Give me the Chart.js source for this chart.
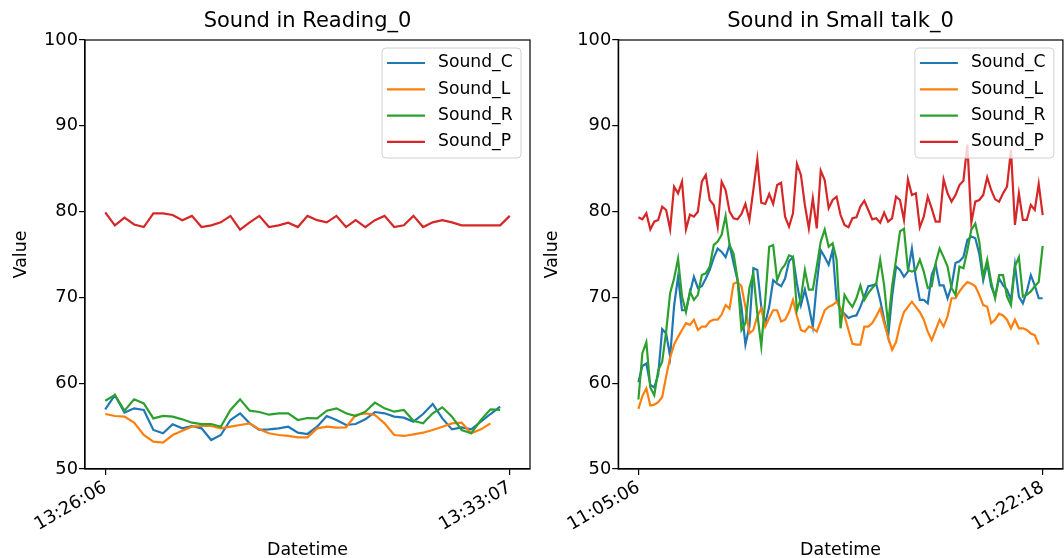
<!DOCTYPE html>
<html>
<head>
<meta charset="utf-8">
<script src="https://cdn.jsdelivr.net/npm/chart.js@4.4.0/dist/chart.umd.min.js"></script>
<style>
body{margin:0;background:#fff;}
#wrap{position:relative;width:1064px;height:558px;}
.caja{position:absolute;top:0;height:558px;}
</style>
</head>
<body>
<div id="wrap">
  <div class="caja" style="left:0;width:540px"><canvas id="reading"></canvas></div>
  <div class="caja" style="left:540px;width:524px"><canvas id="talk"></canvas></div>
</div>
<script>
// datos
const seriesNames = ["Sound_C", "Sound_L", "Sound_R", "Sound_P"];
const seriesColors = ["#1f77b4", "#ff7f0e", "#2ca02c", "#d62728"];
const yTicks = [50, 60, 70, 80, 90, 100];

const readingTicks = ["13:26:06", "13:33:07"];
const readingCount = 43;
const readingC = [56.95,58.62,56.57,57.07,56.88,54.55,54.16,55.21,54.74,55.01,54.74,53.38,53.96,55.71,56.49,55.32,54.55,54.62,54.74,54.93,54.23,54.08,54.93,56.18,55.71,55.13,55.24,55.79,56.64,56.49,56.1,55.98,55.52,56.41,57.58,55.9,54.62,54.86,54.62,55.52,56.41,57.26];
const readingL = [56.41,56.18,56.1,55.4,53.96,53.19,53.07,53.96,54.47,54.93,55.01,55.01,54.74,54.93,55.13,55.32,54.62,54.16,53.96,53.85,53.69,53.69,54.74,54.93,54.82,54.86,56.29,56.49,56.29,55.32,53.96,53.85,54.04,54.23,54.55,54.93,55.32,55.4,54.16,54.62,55.32];
const readingR = [57.96,58.62,56.8,58.12,57.65,55.9,56.18,56.1,55.79,55.4,55.24,55.24,54.93,56.88,58.12,56.8,56.64,56.33,56.49,56.49,55.71,55.94,55.9,56.8,57.07,56.49,56.18,56.68,57.73,57.07,56.68,56.88,55.63,55.32,56.49,57.19,56.1,54.55,54.16,55.71,56.95,56.88];
const readingP = [79.9,78.4,79.3,78.5,78.2,79.8,79.8,79.6,79.0,79.5,78.2,78.4,78.75,79.5,77.9,78.75,79.5,78.2,78.4,78.7,78.2,79.5,79.0,78.75,79.5,78.2,79.0,78.2,79.0,79.5,78.2,78.4,79.5,78.2,78.75,79.0,78.75,78.4,78.4,78.4,78.4,78.4,79.5];

const talkTicks = ["11:05:06", "11:22:18"];
const talkCount = 103;
const talkC = [60.1,62.0,62.3,59.8,59.5,61.0,66.3,65.8,63.1,69.0,72.4,
  68.5,68.5,70.5,72.4,71.1,71.3,72.2,73.2,74.6,75.7,75.3,74.7,76.1,74.0,72.0,68.9,64.5,66.6,73.4,73.2,
  68.9,67.0,68.9,72.0,71.6,71.3,72.2,74.2,74.7,71.6,69.1,70.9,68.9,66.6,71.6,75.5,74.7,73.8,75.5,69.7,
  68.5,68.1,67.6,67.8,67.9,68.9,70.1,71.3,71.4,71.6,69.7,67.4,65.4,70.1,73.6,73.2,72.4,73.0,75.7,72.2,
  69.7,69.7,69.3,72.6,73.8,71.4,71.4,69.9,71.3,74.0,74.2,74.7,76.7,77.1,76.9,75.1,72.0,74.0,71.3,70.1,
  72.2,71.4,70.9,69.7,73.8,70.1,69.3,70.7,72.6,71.4,69.9,69.9];
const talkL = [57.0,58.5,59.4,57.4,57.5,57.8,58.4,60.8,63.0,64.5,65.4,
  66.2,67.0,66.8,67.4,66.2,66.6,66.6,67.2,67.4,67.4,68.0,69.1,68.7,71.6,71.8,71.3,68.9,65.8,66.2,67.8,
  68.7,66.6,67.6,68.5,68.5,67.2,67.4,68.3,69.7,67.8,66.2,66.0,66.6,66.4,66.0,67.2,68.5,68.9,69.1,69.5,
  68.7,67.8,66.2,64.6,64.5,64.5,66.6,66.6,67.0,67.8,68.7,67.0,65.4,63.9,64.8,66.8,68.3,68.9,69.5,68.9,
  68.3,67.4,66.0,65.0,66.2,67.4,66.6,67.8,69.9,69.9,70.7,71.3,71.8,71.6,71.3,70.3,69.1,68.9,67.0,67.4,
  68.1,67.9,67.4,66.4,67.4,66.4,66.4,66.2,65.8,65.6,64.5];
const talkR = [58.1,63.5,64.8,59.5,58.6,61.5,62.5,66.0,70.5,72.2,74.5,70.1,
  68.3,70.7,69.7,70.3,72.6,72.8,73.6,76.1,76.5,77.3,79.5,76.1,75.1,72.2,66.2,67.0,71.1,72.8,68.1,64.3,
  69.7,75.9,76.1,72.0,73.2,73.8,74.9,74.7,68.5,69.9,73.2,70.9,70.9,73.6,76.5,77.9,75.9,76.3,74.4,66.4,
  70.3,69.5,68.9,69.9,71.4,69.7,70.5,71.1,71.6,74.4,71.4,66.8,71.3,74.4,77.7,78.0,73.2,73.0,73.2,74.4,
  73.0,71.1,71.3,74.0,75.7,74.7,73.6,71.1,70.3,73.6,73.4,75.5,77.9,78.6,76.5,72.4,74.4,71.8,69.9,72.6,
  72.6,70.1,69.1,73.6,74.7,70.1,70.3,70.7,71.3,71.8,76.0];
const talkP = [79.33,79.1,79.8,77.93,78.83,79.03,80.58,80.19,77.93,82.9,82.13,83.49,77.93,79.65,79.41,79.99,83.49,84.27,81.35,80.77,
  78.24,83.49,82.52,79.99,79.22,79.1,79.72,80.89,79.03,82.52,86.09,81.04,80.89,82.05,80.89,83.1,83.37,79.41,78.24,79.8,
  85.55,84.27,80.77,78.05,81.55,78.05,84.77,83.68,80.38,81.35,81.74,79.6,
  78.44,78.17,79.22,79.33,80.58,81.27,80.19,79.1,79.22,78.71,79.88,78.83,79.22,81.74,81.35,79.03,83.76,81.93,82.13,78.17,
  79.41,81.74,80.38,78.83,78.83,83.76,82.13,81.16,81.93,83.1,83.6,87.8,78.71,81.16,81.35,81.93,84.0,82.52,81.43,81.16,
  82.13,82.9,87.2,78.44,82.13,79.03,79.03,80.77,80.19,83.22,79.6];

const fuente = '"DejaVu Sans", sans-serif';

// marco completo alrededor del area
const marco = {
  id: "marco",
  afterDatasetsDraw(chart) {
    const a = chart.chartArea, ctx = chart.ctx;
    ctx.save();
    ctx.strokeStyle = "#000";
    ctx.lineWidth = 1.2;
    ctx.strokeRect(a.left, a.top, a.right - a.left, a.bottom - a.top);
    ctx.restore();
  }
};

// leyenda estilo matplotlib, encima de las lineas
const leyenda = {
  id: "leyenda",
  afterDatasetsDraw(chart) {
    const a = chart.chartArea, ctx = chart.ctx;
    const w = 139, h = 110;
    const x0 = a.right - 9 - w, y0 = a.top + 8;
    ctx.save();
    ctx.beginPath();
    ctx.roundRect(x0, y0, w, h, 4);
    ctx.fillStyle = "rgba(255,255,255,0.8)";
    ctx.fill();
    ctx.strokeStyle = "#d0d0d0";
    ctx.lineWidth = 1;
    ctx.stroke();
    ctx.font = "17.2px " + fuente;
    ctx.textBaseline = "middle";
    seriesNames.forEach((name, i) => {
      const y = y0 + 15 + i * 26.3;
      ctx.strokeStyle = seriesColors[i];
      ctx.lineWidth = 2.2;
      ctx.beginPath();
      ctx.moveTo(x0 + 5, y);
      ctx.lineTo(x0 + 43, y);
      ctx.stroke();
      ctx.fillStyle = "#000";
      ctx.fillText(name, x0 + 56, y);
    });
    ctx.restore();
  }
};

function crearGrafico(id, titulo, ticksX, n, datos, yWidth, padRight, yTitlePad) {
  const ctx = document.getElementById(id).getContext("2d");
  return new Chart(ctx, {
    type: "line",
    data: {
      datasets: datos.map((serie, i) => ({
        label: seriesNames[i],
        data: serie.map((v, k) => ({ x: k, y: v })),
        borderColor: seriesColors[i],
        backgroundColor: seriesColors[i],
        borderWidth: 2.2,
        pointRadius: 0,
        tension: 0,
        fill: false,
        order: 4 - i
      }))
    },
    options: {
      responsive: true,
      maintainAspectRatio: false,
      animation: false,
      layout: { padding: { left: 0, right: padRight, top: 0, bottom: 0 } },
      plugins: {
        legend: { display: false },
        tooltip: { enabled: false },
        title: {
          display: true,
          fullSize: false,
          text: titulo,
          color: "#000",
          font: { family: fuente, size: 21, weight: "normal" },
          padding: { top: 9, bottom: 5.8 }
        }
      },
      scales: {
        x: {
          type: "linear",
          min: -0.05 * (n - 1),
          max: 1.05 * (n - 1),
          afterBuildTicks: s => { s.ticks = [{ value: 0 }, { value: n - 1 }]; },
          afterFit: s => { s.height = 89; },
          grid: { display: true, drawOnChartArea: false, drawTicks: true, tickLength: 6, color: "#000", lineWidth: 1.2 },
          border: { display: true, color: "#000", width: 1.2 },
          ticks: {
            autoSkip: false,
            maxRotation: 30,
            minRotation: 30,
            padding: 2,
            color: "#000",
            font: { family: fuente, size: 17.8 },
            callback: v => (v === 0 ? ticksX[0] : ticksX[1])
          },
          title: { display: true, text: "Datetime", color: "#000", font: { family: fuente, size: 17.4 }, padding: { top: 0, bottom: -3 } }
        },
        y: {
          min: 50,
          max: 100,
          afterBuildTicks: s => { s.ticks = yTicks.map(v => ({ value: v })); },
          afterFit: s => { s.width = yWidth; },
          grid: { display: true, drawOnChartArea: false, drawTicks: true, tickLength: 6, color: "#000", lineWidth: 1.2 },
          border: { display: true, color: "#000", width: 1.2 },
          ticks: { color: "#000", padding: 1, font: { family: fuente, size: 17.8 } },
          title: { display: true, text: "Value", color: "#000", font: { family: fuente, size: 17.4 }, padding: { top: yTitlePad, bottom: 0 } }
        }
      }
    },
    plugins: [marco, leyenda]
  });
}

crearGrafico("reading", "Sound in Reading_0", readingTicks, readingCount, [readingC, readingL, readingR, readingP], 85, 10, 11);
crearGrafico("talk", "Sound in Small talk_0", talkTicks, talkCount, [talkC, talkL, talkR, talkP], 78.2, 1.1, 2);
</script>
</body>
</html>
